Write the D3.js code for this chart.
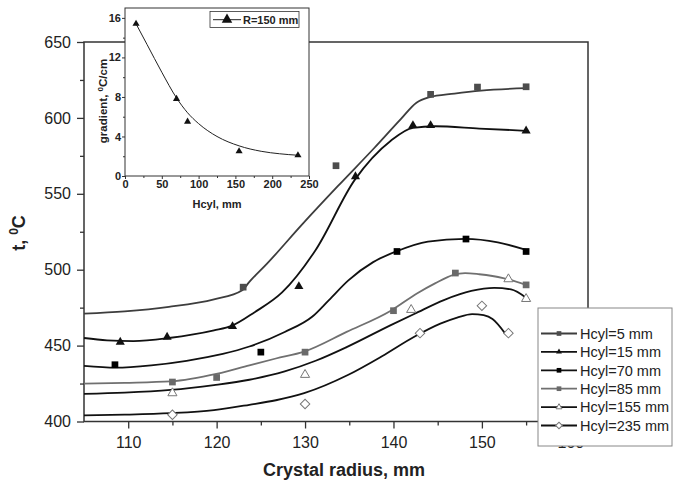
<!DOCTYPE html>
<html>
<head>
<meta charset="utf-8">
<script src="https://cdn.jsdelivr.net/npm/d3@7"></script>
<style>
  body { margin: 0; background: #fff; }
  text { font-family: "Liberation Sans", Arial, sans-serif; }
</style>
</head>
<body>
<script>
// main chart: temperature vs crystal radius, one array pair per Hcyl
const seriesNames = ["Hcyl=5 mm", "Hcyl=15 mm", "Hcyl=70 mm", "Hcyl=85 mm", "Hcyl=155 mm", "Hcyl=235 mm"];

// measured points
const r5   = [123, 133.5, 144.2, 149.5, 155];
const t5   = [488.5, 568.5, 615.5, 620.3, 620.5];
const r15  = [109.1, 114.4, 121.8, 129.3, 135.7, 142.2, 144.2, 155];
const t15  = [452.3, 455.6, 462.6, 489, 561.4, 595, 595, 591.5];
const r70  = [108.5, 125, 140.4, 148.2, 155];
const t70  = [437.4, 445.7, 512, 520.2, 512];
const r85  = [115, 120, 130, 140, 147, 155];
const t85  = [426, 429, 445.7, 473, 497.8, 490];
const r155 = [115, 130, 142, 153, 155];
const t155 = [418.7, 430.8, 473.6, 493.8, 480.8];
const r235 = [115, 130, 143, 150, 153];
const t235 = [404.4, 411.5, 458.2, 476.2, 458.2];

// fitted curves
const fitR5   = [105, 109.6, 114.6, 119.7, 122.9, 123.7, 125.7, 129.7, 133.7, 137.8, 140.8, 142.6, 144, 146.9, 149.9, 155];
const fitT5   = [471, 472.5, 475.5, 480.5, 486.5, 492, 504, 530, 555, 580, 599, 610, 613.5, 616, 618, 619.6];
const fitR15  = [105, 107.6, 110.6, 114.6, 119.7, 121.7, 124.3, 127.4, 131.2, 135.6, 139.7, 142.2, 144.7, 149.7, 155];
const fitT15  = [455, 453.5, 453, 455, 460, 463, 472, 485, 513, 559, 585, 593.5, 594.5, 593, 591.5];
const fitR70  = [105, 108.6, 112.6, 116.6, 120.7, 123.7, 127.7, 130.8, 132.7, 134.9, 137.7, 140.3, 143.9, 148.1, 151.8, 155];
const fitT70  = [436.7, 435.5, 437, 440, 444.5, 449.4, 459, 469, 480, 493, 505, 512, 518.5, 520.3, 518, 513];
const fitR85  = [105, 109.6, 114.8, 120.1, 123.7, 126.7, 129.9, 134.7, 139.7, 142.7, 144.7, 146.7, 148.1, 149.7, 152.4, 155];
const fitT85  = [425, 425.5, 426.4, 431.5, 437, 441.5, 446, 459, 473, 484.5, 491, 496.5, 497.8, 497, 494.5, 490];
const fitR155 = [105, 109.6, 114.8, 119.7, 123.7, 127.7, 131.2, 134.7, 139.7, 142.4, 145.7, 148.8, 151.4, 153.3, 155];
const fitT155 = [418.2, 419, 420.8, 424, 427.5, 433, 440, 449, 463.5, 471, 480, 486, 488, 487, 481.5];
const fitR235 = [105, 109.6, 114.8, 119.7, 123.7, 126.7, 129.9, 134.9, 138.7, 142.4, 145.3, 147.2, 148.9, 150.2, 151.2, 152.6];
const fitT235 = [404, 404.5, 405.5, 407.5, 411, 414, 418.7, 430.8, 443, 456, 464.5, 468.5, 470.8, 470, 467.5, 458.2];

const xMajorTicks = [110, 120, 130, 140, 150, 160];
const yMajorTicks = [400, 450, 500, 550, 600, 650];

// inset: gradient vs Hcyl at R=150 mm
const insetHcyl = [15, 70, 85, 155, 235];
const insetGrad = [15.4, 7.8, 5.5, 2.5, 2.1];
const insetFitHcyl = [15, 30, 50, 70, 85, 100, 125, 155, 185, 210, 235];
const insetFitGrad = [15.4, 13.3, 10.5, 7.9, 6.4, 5.3, 4.0, 3.05, 2.5, 2.25, 2.1];
const insetXTicks = [0, 50, 100, 150, 200, 250];
const insetYTicks = [0, 4, 8, 12, 16];

let svg = null;
let x, y = null;    // main scales
let ix, iy = null;  // inset scales

const styles = [
  { line: "#3d3d3d", fill: "#4d4d4d", stroke: "none", shape: "square" },
  { line: "#111",    fill: "#111",    stroke: "none", shape: "triangle" },
  { line: "#111",    fill: "#000",    stroke: "none", shape: "square" },
  { line: "#707070", fill: "#6a6a6a", stroke: "none", shape: "square" },
  { line: "#111",    fill: "#fff",    stroke: "#777", shape: "triangle" },
  { line: "#111",    fill: "#fff",    stroke: "#777", shape: "diamond" }
];

const series = [
  { r: r5, t: t5, fr: fitR5, ft: fitT5 },
  { r: r15, t: t15, fr: fitR15, ft: fitT15 },
  { r: r70, t: t70, fr: fitR70, ft: fitT70 },
  { r: r85, t: t85, fr: fitR85, ft: fitT85 },
  { r: r155, t: t155, fr: fitR155, ft: fitT155 },
  { r: r235, t: t235, fr: fitR235, ft: fitT235 }
];

appendSvg("body");
setupScales();
drawMainAxes();
drawSeries();
drawLegend();
drawInset();

function appendSvg(domElement) {
  svg = d3.select(domElement).append("svg")
    .attr("width", 673)
    .attr("height", 481);
}

function setupScales() {
  x = d3.scaleLinear().domain([105, 162]).range([84, 588]);
  y = d3.scaleLinear().domain([400, 650]).range([421.5, 42]);
  ix = d3.scaleLinear().domain([0, 250]).range([125, 309]);
  iy = d3.scaleLinear().domain([0, 17]).range([176, 8]);
}

function symbolPath(shape, size) {
  if (shape === "square") return d3.symbol(d3.symbolSquare, size)();
  if (shape === "triangle") return d3.symbol(d3.symbolTriangle, size)();
  return d3.symbol(d3.symbolSquare, size)(); // diamond = rotated square
}

function drawMainAxes() {
  // frame
  svg.append("rect")
    .attr("x", x(105)).attr("y", y(650))
    .attr("width", x(162) - x(105)).attr("height", y(400) - y(650))
    .attr("fill", "none").attr("stroke", "#333").attr("stroke-width", 1.5);

  // minor ticks
  svg.append("g")
    .attr("transform", `translate(0, ${y(400)})`)
    .call(d3.axisBottom(x).tickValues([115, 125, 135, 145, 155]).tickSize(4).tickFormat(""))
    .call(g => g.select(".domain").remove());
  svg.append("g")
    .attr("transform", `translate(${x(105)}, 0)`)
    .call(d3.axisLeft(y).tickValues([425, 475, 525, 575, 625]).tickSize(4).tickFormat(""))
    .call(g => g.select(".domain").remove());

  // major ticks + labels
  svg.append("g")
    .attr("class", "xaxis")
    .attr("transform", `translate(0, ${y(400)})`)
    .call(d3.axisBottom(x).tickValues(xMajorTicks).tickSize(7).tickPadding(8).tickFormat(d3.format("d")))
    .call(g => g.select(".domain").remove());
  svg.append("g")
    .attr("transform", `translate(${x(105)}, 0)`)
    .call(d3.axisLeft(y).tickValues(yMajorTicks).tickSize(7).tickPadding(6).tickFormat(d3.format("d")))
    .call(g => g.select(".domain").remove());

  svg.selectAll(".tick line").attr("stroke", "#333").attr("stroke-width", 1.3);
  svg.selectAll(".tick text")
    .attr("font-size", 16).attr("fill", "#222")
    .style("font-family", "'Liberation Sans', Arial, sans-serif");

  // axis titles
  svg.append("text")
    .attr("x", 344).attr("y", 476)
    .attr("text-anchor", "middle")
    .attr("font-size", 18).attr("font-weight", "bold").attr("fill", "#222")
    .text("Crystal radius, mm");

  const yt = svg.append("text")
    .attr("transform", "translate(25, 233) rotate(-90)")
    .attr("text-anchor", "middle")
    .attr("font-size", 18).attr("font-weight", "bold").attr("fill", "#222");
  yt.append("tspan").text("t, ");
  yt.append("tspan").attr("font-size", 12).attr("dy", -7).text("0");
  yt.append("tspan").attr("dy", 7).text("C");
}

function drawSeries() {
  const line = d3.line()
    .x(d => x(d[0]))
    .y(d => y(d[1]))
    .curve(d3.curveMonotoneX);

  series.forEach((s, i) => {
    const pts = s.fr.map((r, k) => [r, s.ft[k]]);
    svg.append("path")
      .datum(pts)
      .attr("d", line)
      .attr("fill", "none")
      .attr("stroke", styles[i].line)
      .attr("stroke-width", 1.8);
  });

  series.forEach((s, i) => {
    const st = styles[i];
    const size = st.shape === "triangle" ? 36 : 45;
    svg.append("g").selectAll("path")
      .data(s.r.map((r, k) => [r, s.t[k]]))
      .enter()
      .append("path")
      .attr("d", symbolPath(st.shape, size))
      .attr("transform", d => `translate(${x(d[0])}, ${y(d[1])})` + (st.shape === "diamond" ? " rotate(45)" : ""))
      .attr("fill", st.fill)
      .attr("stroke", st.stroke)
      .attr("stroke-width", 1);
  });
}

function drawLegend() {
  const g = svg.append("g");
  g.append("rect")
    .attr("x", 538).attr("y", 308).attr("width", 134).attr("height", 138)
    .attr("fill", "#fff").attr("stroke", "#888").attr("stroke-width", 1);

  seriesNames.forEach((name, i) => {
    const st = styles[i];
    const cy = 333.5 + i * 18.4;
    g.append("line")
      .attr("x1", 541).attr("x2", 577).attr("y1", cy).attr("y2", cy)
      .attr("stroke", st.line).attr("stroke-width", 1.8);
    g.append("path")
      .attr("d", symbolPath(st.shape, st.shape === "triangle" ? 15 : 22))
      .attr("transform", `translate(559, ${cy})` + (st.shape === "diamond" ? " rotate(45)" : ""))
      .attr("fill", st.fill).attr("stroke", st.stroke).attr("stroke-width", 1);
    g.append("text")
      .attr("x", 580).attr("y", cy).attr("dy", "0.36em")
      .attr("font-size", 14.5).attr("fill", "#222")
      .text(name);
  });
}

function drawInset() {
  const g = svg.append("g");
  g.append("rect")
    .attr("x", ix(0)).attr("y", iy(17))
    .attr("width", ix(250) - ix(0)).attr("height", iy(0) - iy(17))
    .attr("fill", "#fff").attr("stroke", "#333").attr("stroke-width", 1);

  // minor ticks
  g.append("g")
    .attr("transform", `translate(0, ${iy(0)})`)
    .call(d3.axisBottom(ix).tickValues([25, 75, 125, 175, 225]).tickSize(2).tickFormat(""))
    .call(a => a.select(".domain").remove());
  g.append("g")
    .attr("transform", `translate(${ix(0)}, 0)`)
    .call(d3.axisLeft(iy).tickValues([2, 6, 10, 14]).tickSize(2).tickFormat(""))
    .call(a => a.select(".domain").remove());

  g.append("g")
    .attr("transform", `translate(0, ${iy(0)})`)
    .call(d3.axisBottom(ix).tickValues(insetXTicks).tickSize(3).tickPadding(1).tickFormat(d3.format("d")))
    .call(a => a.select(".domain").remove());
  g.append("g")
    .attr("transform", `translate(${ix(0)}, 0)`)
    .call(d3.axisLeft(iy).tickValues(insetYTicks).tickSize(3).tickPadding(1).tickFormat(d3.format("d")))
    .call(a => a.select(".domain").remove());

  g.selectAll(".tick line").attr("stroke", "#333");
  g.selectAll(".tick text")
    .attr("font-size", 11).attr("font-weight", "bold").attr("fill", "#222")
    .style("font-family", "'Liberation Sans', Arial, sans-serif");

  g.append("text")
    .attr("x", 217).attr("y", 208)
    .attr("text-anchor", "middle")
    .attr("font-size", 11).attr("font-weight", "bold").attr("fill", "#222")
    .text("Hcyl, mm");

  const yt = g.append("text")
    .attr("transform", "translate(107, 101) rotate(-90)")
    .attr("text-anchor", "middle")
    .attr("font-size", 11.5).attr("font-weight", "bold").attr("fill", "#222");
  yt.append("tspan").text("gradient, ");
  yt.append("tspan").attr("font-size", 8).attr("dy", -4.5).text("0");
  yt.append("tspan").attr("dy", 4.5).text("C/cm");

  // fitted curve
  const line = d3.line()
    .x(d => ix(d[0]))
    .y(d => iy(d[1]))
    .curve(d3.curveMonotoneX);
  g.append("path")
    .datum(insetFitHcyl.map((h, k) => [h, insetFitGrad[k]]))
    .attr("d", line)
    .attr("fill", "none").attr("stroke", "#222").attr("stroke-width", 1);

  g.selectAll(".ipt")
    .data(insetHcyl.map((h, k) => [h, insetGrad[k]]))
    .enter()
    .append("path")
    .attr("d", d3.symbol(d3.symbolTriangle, 22)())
    .attr("transform", d => `translate(${ix(d[0])}, ${iy(d[1])})`)
    .attr("fill", "#111");

  // inset legend
  g.append("rect")
    .attr("x", 210).attr("y", 11.5).attr("width", 89).attr("height", 16)
    .attr("fill", "#fff").attr("stroke", "#333").attr("stroke-width", 0.8);
  g.append("line")
    .attr("x1", 213).attr("x2", 241).attr("y1", 19.7).attr("y2", 19.7)
    .attr("stroke", "#222").attr("stroke-width", 1);
  g.append("path")
    .attr("d", d3.symbol(d3.symbolTriangle, 48)())
    .attr("transform", "translate(227, 19.7)")
    .attr("fill", "#111");
  g.append("text")
    .attr("x", 243).attr("y", 19.7).attr("dy", "0.36em")
    .attr("font-size", 11).attr("font-weight", "bold").attr("fill", "#222")
    .text("R=150 mm");
}
</script>
</body>
</html>
